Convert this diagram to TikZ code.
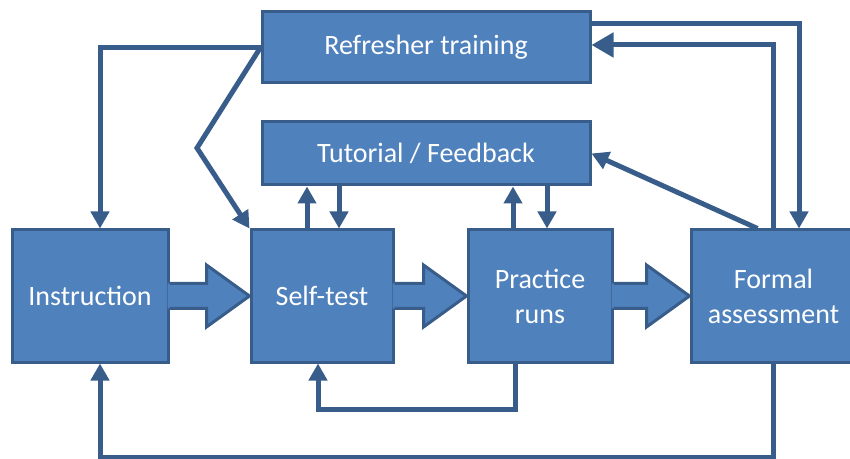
\documentclass[tikz,border=0pt]{standalone}
\usepackage{fontspec}
\setmainfont{Carlito}
\usetikzlibrary{arrows.meta,calc}
\definecolor{boxblue}{HTML}{4F81BD}
\definecolor{edgeblue}{HTML}{385D8A}
\newcommand{\blockarrow}[2]{%
\fill [boxblue] ($(#1.east)+(-2,-12.5)$) -- ($(#2.west)+(-43,-12.5)$) -- ($(#2.west)+(-43,-31)$) -- (#2.west) -- ($(#2.west)+(-43,31)$) -- ($(#2.west)+(-43,12.5)$) -- ($(#1.east)+(-2,12.5)$) -- cycle;
\draw [edgeblue, line width=1.5pt] ($(#1.east)+(0,-12.5)$) -- ($(#2.west)+(-43,-12.5)$) -- ($(#2.west)+(-43,-31)$) -- (#2.west) -- ($(#2.west)+(-43,31)$) -- ($(#2.west)+(-43,12.5)$) -- ($(#1.east)+(0,12.5)$);}
\begin{document}
\begin{tikzpicture}[x=0.5pt,y=-0.5pt]
\tikzstyle{every node}+=[inner sep=0pt]
\tikzstyle{stage}=[draw=edgeblue, fill=boxblue, line width=1.5pt, text=white, align=center, font=\fontsize{14}{17.5}\selectfont]
\tikzstyle{link}=[edgeblue, line width=2.5pt, -{Triangle[width=9pt,length=8.5pt]}]
\useasboundingbox (0,0) rectangle (850,459);
\clip (0,0) rectangle (850,459);
\node [stage, minimum width=164pt, minimum height=35.5pt] (refr) at (426,47.5) {Refresher training};
\node [stage, minimum width=164pt, minimum height=31.5pt] (tut) at (426,153.5) {Tutorial / Feedback};
\node [stage, minimum width=78pt, minimum height=66pt] (instr) at (90,296) {Instruction};
\node [stage, minimum width=71pt, minimum height=66pt] (self) at (322,296) {Self-test};
\node [stage, minimum width=72pt, minimum height=66pt] (prac) at (540,296) {Practice\\runs};
\node [stage, minimum width=82.5pt, minimum height=66pt] (formal) at (773.5,296) {Formal\\assessment};
\coordinate (kink) at (197,148);
\coordinate (low1) at (318,409);
\coordinate (low2) at (100,457);
\blockarrow{instr}{self}
\blockarrow{self}{prac}
\blockarrow{prac}{formal}
\draw [link] (refr.west) -| ([xshift=5pt]instr.north);
\draw [link] (refr.west) -- (kink) -- (self.north west);
\draw [link] ([xshift=-7.5pt]self.north) -- ([xshift=-7.5pt]self.north |- tut.south);
\draw [link] ([xshift=8.5pt]self.north |- tut.south) -- ([xshift=8.5pt]self.north);
\draw [link] ([xshift=-13.5pt]prac.north) -- ([xshift=-13.5pt]prac.north |- tut.south);
\draw [link] ([xshift=3.5pt]prac.north |- tut.south) -- ([xshift=3.5pt]prac.north);
\draw [link] ([xshift=-8pt]formal.north) -- (tut.east);
\draw [link, -{Triangle[width=12pt,length=11pt]}] (formal.north) |- ([yshift=1.25pt]refr.east);
\draw [link] ([yshift=11.75pt]refr.east) -| ([xshift=12.75pt]formal.north);
\draw [link] ([xshift=-12.5pt]prac.south) |- (low1) -- (low1 |- self.south);
\draw [link] (formal.south) |- (low2) -- (low2 |- instr.south);
\end{tikzpicture}
\end{document}
